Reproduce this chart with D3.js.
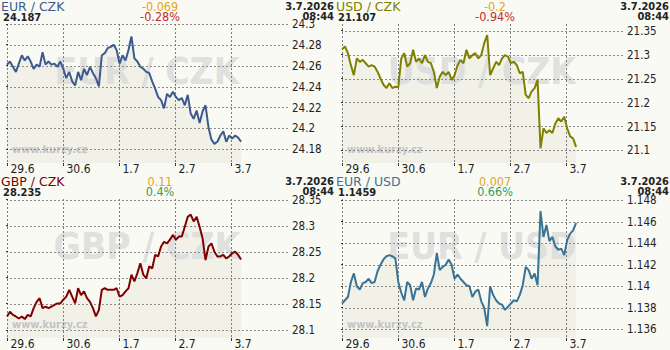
<!DOCTYPE html>
<html>
<head>
<meta charset="utf-8">
<script src="https://cdn.jsdelivr.net/npm/d3@7"></script>
<style>
body { margin: 0; background: #fafaf5; }
svg { display: block; font-family: "DejaVu Sans", Verdana, sans-serif; }
</style>
</head>
<body>
<svg id="chart" width="670" height="350"></svg>
<script>
const dayLabels = ["29.6", "30.6", "1.7", "2.7", "3.7"];
const pairs = ["EUR / CZK", "USD / CZK", "GBP / CZK", "EUR / USD"];
const lastValues = ["24.187", "21.107", "28.235", "1.1459"];
const changes = ["-0.069", "-0.2", "0.11", "0.007"];
const changePct = ["-0.28%", "-0.94%", "0.4%", "0.66%"];
const dateText = "3.7.2026",
    timeText = "08:44";

const eurCzkTicks = [24.18, 24.2, 24.22, 24.24, 24.26, 24.28, 24.3];
const usdCzkTicks = [21.1, 21.15, 21.2, 21.25, 21.3, 21.35];
const gbpCzkTicks = [28.1, 28.15, 28.2, 28.25, 28.3, 28.35];
const eurUsdTicks = [1.136, 1.138, 1.14, 1.142, 1.144, 1.146, 1.148];

const eurCzk = [
    24.261, 24.264, 24.259, 24.254, 24.262, 24.270, 24.265, 24.269, 24.264, 24.257,
    24.261, 24.259, 24.273, 24.261, 24.264, 24.261, 24.262, 24.259, 24.264, 24.257,
    24.248, 24.254, 24.245, 24.241, 24.254, 24.246, 24.257, 24.251, 24.259, 24.253,
    24.248, 24.240, 24.270, 24.272, 24.277, 24.278, 24.280, 24.275, 24.262, 24.270,
    24.265, 24.275, 24.288, 24.267, 24.264, 24.259, 24.257, 24.254, 24.253, 24.245,
    24.238, 24.230, 24.227, 24.219, 24.233, 24.230, 24.235, 24.230, 24.227, 24.229,
    24.222, 24.232, 24.214, 24.209, 24.217, 24.205, 24.216, 24.222, 24.201, 24.189,
    24.185, 24.187, 24.193, 24.197, 24.187, 24.193, 24.190, 24.193, 24.191, 24.187,
];
const usdCzk = [
    21.311, 21.317, 21.303, 21.278, 21.257, 21.292, 21.285, 21.289, 21.282, 21.275,
    21.278, 21.275, 21.264, 21.250, 21.237, 21.230, 21.240, 21.230, 21.233, 21.232,
    21.292, 21.303, 21.275, 21.282, 21.310, 21.285, 21.292, 21.282, 21.299, 21.285,
    21.282, 21.264, 21.230, 21.254, 21.264, 21.257, 21.264, 21.247, 21.257, 21.278,
    21.289, 21.282, 21.310, 21.292, 21.299, 21.303, 21.292, 21.299, 21.324, 21.341,
    21.257, 21.271, 21.285, 21.278, 21.292, 21.299, 21.296, 21.282, 21.285, 21.278,
    21.261, 21.264, 21.216, 21.209, 21.223, 21.230, 21.247, 21.104, 21.146, 21.136,
    21.142, 21.136, 21.156, 21.167, 21.160, 21.170, 21.146, 21.129, 21.125, 21.107,
];
const gbpCzk = [
    28.126, 28.135, 28.129, 28.126, 28.122, 28.126, 28.121, 28.129, 28.126, 28.142,
    28.154, 28.161, 28.142, 28.145, 28.142, 28.145, 28.148, 28.151, 28.151, 28.158,
    28.164, 28.177, 28.164, 28.151, 28.180, 28.167, 28.174, 28.161, 28.154, 28.142,
    28.126, 28.138, 28.177, 28.180, 28.177, 28.177, 28.177, 28.180, 28.164, 28.167,
    28.174, 28.180, 28.206, 28.193, 28.209, 28.228, 28.206, 28.199, 28.222, 28.218,
    28.244, 28.241, 28.260, 28.269, 28.266, 28.273, 28.282, 28.273, 28.279, 28.279,
    28.298, 28.317, 28.321, 28.308, 28.317, 28.298, 28.276, 28.234, 28.260, 28.266,
    28.250, 28.241, 28.241, 28.244, 28.237, 28.241, 28.247, 28.250, 28.244, 28.235,
];
const eurUsd = [
    1.1384, 1.1387, 1.1390, 1.1404, 1.1412, 1.1400, 1.1397, 1.1403, 1.1404, 1.1407,
    1.1403, 1.1404, 1.1414, 1.1420, 1.1425, 1.1428, 1.1429, 1.1428, 1.1426, 1.1404,
    1.1394, 1.1387, 1.1404, 1.1401, 1.1387, 1.1398, 1.1397, 1.1404, 1.1390, 1.1398,
    1.1403, 1.1411, 1.1431, 1.1415, 1.1418, 1.1420, 1.1425, 1.1420, 1.1407, 1.1411,
    1.1407, 1.1404, 1.1401, 1.1400, 1.1390, 1.1395, 1.1397, 1.1386, 1.1380, 1.1363,
    1.1400, 1.1392, 1.1387, 1.1384, 1.1383, 1.1378, 1.1381, 1.1384, 1.1387, 1.1386,
    1.1392, 1.1401, 1.1418, 1.1415, 1.1407, 1.1412, 1.1401, 1.1470, 1.1446, 1.1457,
    1.1442, 1.1446, 1.1437, 1.1434, 1.1435, 1.1429, 1.1443, 1.1449, 1.1452, 1.1459,
];

// layout of the four panels
const panels = [
    { values: eurCzk, ticks: eurCzkTicks, domain: [24.1666, 24.3], color: "#3d5a8e", pctColor: "#c42a2a", ox: 0, oy: 0 },
    { values: usdCzk, ticks: usdCzkTicks, domain: [21.0734, 21.364], color: "#7f7f00", pctColor: "#c42a2a", ox: 335, oy: 0 },
    { values: gbpCzk, ticks: gbpCzkTicks, domain: [28.0847, 28.351], color: "#800000", pctColor: "#349a5c", ox: 0, oy: 175 },
    { values: eurUsd, ticks: eurUsdTicks, domain: [1.13519, 1.14812], color: "#3a7393", pctColor: "#349a5c", ox: 335, oy: 175 },
];

const plotLeft = 7, plotRight = 288, plotTop = 24, plotBottom = 163;
const lastDay = 4.18;
const condensed = "DejaVu Sans Condensed, DejaVu Sans";

const svg = d3.select("#chart");

const xScale = d3.scaleLinear().domain([0, 4 + (plotRight - 231) / 56]).range([plotLeft, plotRight]);

panels.forEach((p, k) => {
    const g = svg.append("g").attr("transform", `translate(${p.ox},${p.oy})`);
    const yScale = d3.scaleLinear().domain(p.domain).range([plotBottom, plotTop]);
    const n = p.values.length;
    const pts = p.values.map((v, i) => [i * lastDay / (n - 1), v]);

    // area under the line
    const area = d3.area()
        .x((d) => xScale(d[0]))
        .y0(plotBottom)
        .y1((d) => yScale(d[1]));
    g.append("path").attr("d", area(pts)).attr("fill", "#f1f1e8");

    // watermark
    g.append("text")
        .attr("x", 147).attr("y", 71)
        .attr("text-anchor", "middle").attr("dominant-baseline", "central")
        .attr("font-family", condensed)
        .attr("font-weight", "bold").attr("font-size", 37)
        .attr("fill", "#dadada").attr("opacity", 0.8)
        .text(pairs[k]);

    g.append("text")
        .attr("x", 12).attr("y", 153)
        .attr("font-family", condensed)
        .attr("font-weight", "bold").attr("font-size", 11)
        .attr("fill", "#c4c4c4")
        .text("www.kurzy.cz");

    // horizontal grid + right labels
    const yAxis = d3.axisRight(yScale).tickValues(p.ticks).tickSize(-(plotRight - plotLeft)).tickPadding(4).tickFormat(d3.format(""));
    const ya = g.append("g").attr("transform", `translate(${plotRight},0)`).call(yAxis);
    ya.select(".domain").remove();
    ya.selectAll("line").attr("stroke", "#8c8c8c").attr("stroke-dasharray", "2,2")
        .attr("shape-rendering", "crispEdges");
    ya.selectAll("text")
        .attr("font-family", condensed)
        .attr("font-size", 11.5).attr("fill", "#222");

    // vertical grid + bottom labels
    const xAxis = d3.axisBottom(xScale).tickValues([0, 1, 2, 3, 4]).tickSize(0).tickFormat((d) => dayLabels[d]);
    const xa = g.append("g").attr("transform", `translate(0,${plotBottom})`).call(xAxis);
    xa.select(".domain").remove();
    xa.selectAll("line").attr("y1", -(plotBottom - plotTop)).attr("y2", 0)
        .attr("stroke", "#7c7c7c").attr("stroke-dasharray", "2,2")
        .attr("shape-rendering", "crispEdges");
    xa.selectAll(".tick").append("line")
        .attr("y1", 0).attr("y2", 3).attr("stroke", "#333")
        .attr("shape-rendering", "crispEdges");
    xa.selectAll("text")
        .attr("text-anchor", "start").attr("x", 3).attr("y", 10).attr("dy", 0)
        .attr("font-family", condensed)
        .attr("font-size", 12).attr("fill", "#222");

    // left axis marks
    g.selectAll(".lmark").data(p.ticks).enter().append("line")
        .attr("x1", plotLeft - 1).attr("x2", plotLeft + 1)
        .attr("y1", (d) => yScale(d)).attr("y2", (d) => yScale(d))
        .attr("stroke", "#333").attr("shape-rendering", "crispEdges");

    // the line
    const line = d3.line().x((d) => xScale(d[0])).y((d) => yScale(d[1]));
    g.append("path").attr("d", line(pts))
        .attr("fill", "none").attr("stroke", p.color).attr("stroke-width", 2)
        .attr("stroke-linejoin", "bevel");

    // header
    g.append("text").attr("x", 1).attr("y", 11)
        .attr("font-size", 12.5).attr("fill", p.color).text(pairs[k]);
    g.append("text").attr("x", 3).attr("y", 21)
        .attr("font-family", condensed)
        .attr("font-weight", "bold").attr("font-size", 11).attr("fill", "#222").text(lastValues[k]);
    g.append("text").attr("x", 160).attr("y", 11).attr("text-anchor", "middle")
        .attr("font-family", condensed)
        .attr("font-size", 12.5).attr("fill", "#e3a51e").text(changes[k]);
    g.append("text").attr("x", 160).attr("y", 21).attr("text-anchor", "middle")
        .attr("font-family", condensed)
        .attr("font-size", 12.5).attr("fill", p.pctColor).text(changePct[k]);
    g.append("text").attr("x", 334).attr("y", 10).attr("text-anchor", "end")
        .attr("font-family", condensed)
        .attr("font-weight", "bold").attr("font-size", 11).attr("fill", "#222").text(dateText);
    g.append("text").attr("x", 334).attr("y", 20).attr("text-anchor", "end")
        .attr("font-family", condensed)
        .attr("font-weight", "bold").attr("font-size", 11).attr("fill", "#222").text(timeText);
});
</script>
</body>
</html>
